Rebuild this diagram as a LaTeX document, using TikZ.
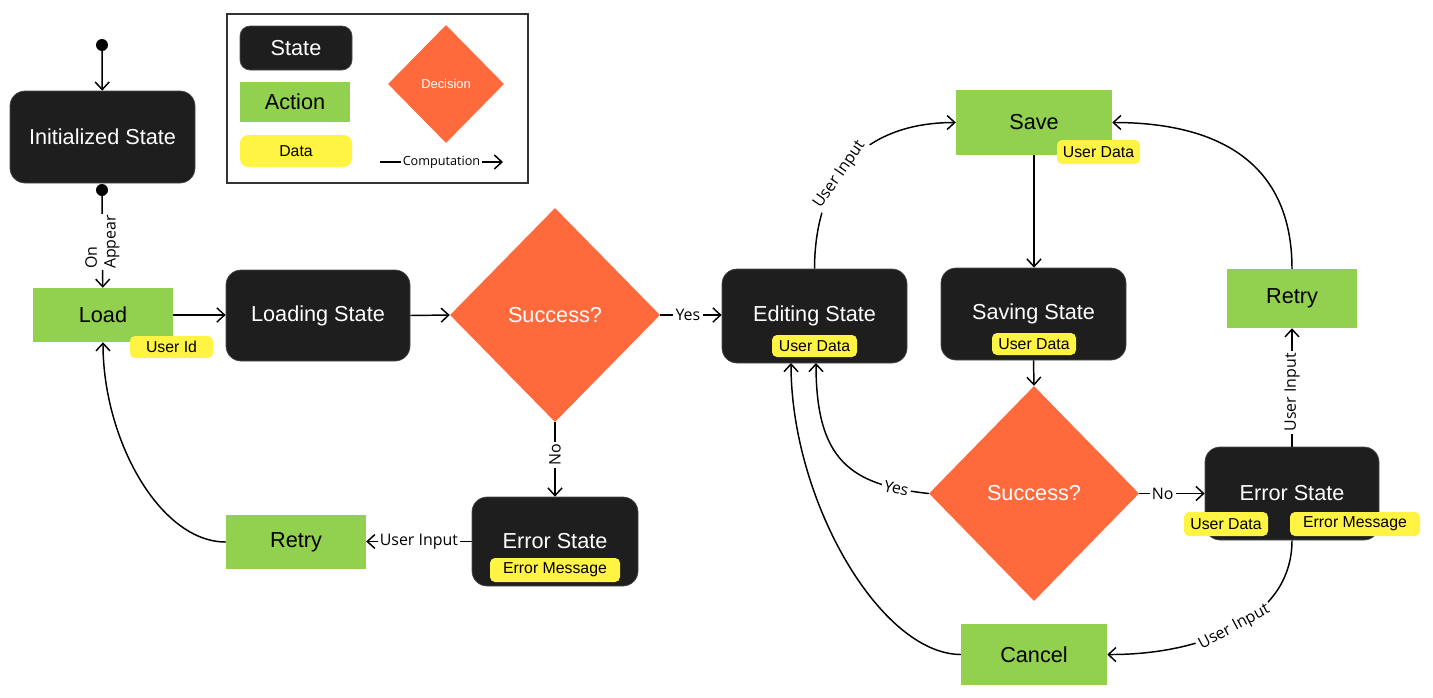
\documentclass[tikz,border=0pt]{standalone}
\usepackage{fontspec}
\setmainfont{Liberation Sans}
\newfontfamily\lblfont{Open Sans}
\usetikzlibrary{shapes.geometric,arrows.meta}
\definecolor{stblack}{HTML}{1E1E1E}
\definecolor{actgreen}{HTML}{92D050}
\definecolor{decorange}{HTML}{FF6A3D}
\definecolor{datayellow}{HTML}{FFF344}
\newcommand\mainsz{\fontsize{18.5}{22}\selectfont}
\newcommand\datasz{\fontsize{13.5}{16}\selectfont}
\newcommand\lblsz{\lblfont\fontsize{13.6}{16}\selectfont}
\newcommand\decsz{\fontsize{11}{13}\selectfont}
\newcommand\compsz{\lblfont\fontsize{10.8}{12}\selectfont}
\begin{document}
\begin{tikzpicture}[x=0.03cm,y=-0.03cm,
  sz/.style 2 args={minimum width=#1*0.03cm, minimum height=#2*0.03cm},
  statebox/.style={fill=stblack, draw=black!70, line width=0.6pt, rounded corners=0.45cm, text=white, font=\mainsz, inner sep=0pt},
  actbox/.style={fill=actgreen, text=black, font=\mainsz, inner sep=0pt},
  databox/.style={fill=datayellow, rounded corners=0.15cm, text=black, font=\datasz, inner sep=0pt},
  decbox/.style={diamond, fill=decorange, text=white, font=\mainsz, inner sep=0pt},
  dotnode/.style={circle, fill=black, inner sep=0pt, minimum size=12*0.03cm},
  arr/.style={-{Straight Barb[length=6.5pt,width=12pt]}, line width=1.25pt},
  lbl/.style={fill=white, text=black, font=\lblsz, inner sep=2pt},
  legendframe/.style={draw=black!80, line width=1.6pt}
]
\fill[white] (0,0) rectangle (1433,697);
\useasboundingbox (0,0) rectangle (1433,697);

% legend
\draw[legendframe] (227,14) rectangle (528,183);
\node[statebox, rounded corners=0.3cm, sz={112}{44}] (lstate) at (296,48) {State};
\node[actbox, sz={110}{40}] (lact) at (295,102) {Action};
\node[databox, rounded corners=0.25cm, sz={112}{32}] (ldata) at (296,151) {Data};
\node[decbox, sz={116}{118}, font=\decsz] (ldec) at (446,84) {Decision};
\coordinate (c1) at (380,162);
\coordinate (c2) at (503,162);
\draw[arr] (c1) -- node[lbl, font=\compsz, inner sep=1.5pt]{Computation} (c2);

% left part
\node[dotnode] (start) at (102,45) {};
\node[statebox, sz={185}{92}] (init) at (102.5,137) {Initialized State};
\node[dotnode] (dot2) at (102,190) {};
\node[actbox, sz={140}{54}] (load) at (103,315) {Load};
\node[databox, sz={83}{22}] (uid) at (171.5,347) {User Id};
\node[statebox, sz={184}{91}] (loading) at (318,315.5) {Loading State};
\node[decbox, sz={210}{214}] (dec1) at (555,315) {Success?};
\node[statebox, sz={166}{89}] (err1) at (555,541.5) {Error State};
\node[databox, sz={130}{24}] (em1) at (555,570) {Error Message};
\node[actbox, sz={140}{54}] (retry1) at (296,542) {Retry};

% right part
\node[statebox, sz={185}{94}] (edit) at (814.5,316) {Editing State};
\node[databox, sz={85}{22}] (ud1) at (814.5,346) {User Data};
\node[actbox, sz={156}{65}] (save) at (1034,122.5) {Save};
\node[databox, sz={83}{24}] (ud2) at (1098.5,152) {User Data};
\node[statebox, sz={185}{92}] (saving) at (1033.5,314) {Saving State};
\node[databox, sz={84}{22}] (ud3) at (1034,344) {User Data};
\node[decbox, sz={210}{215}] (dec2) at (1034,493.5) {Success?};
\node[statebox, sz={174}{93}] (err2) at (1292,493.5) {Error State};
\node[databox, sz={84}{24}] (ud4) at (1226,524) {User Data};
\node[databox, sz={130}{24}] (em2) at (1355,524) {Error Message};
\node[actbox, sz={130}{59}] (retry2) at (1292,298.5) {Retry};
\node[actbox, sz={146}{61}] (cancel) at (1034,654.5) {Cancel};
\coordinate (e1) at (816,363);
\coordinate (e2) at (791,363);

% connectors left
\draw[arr] (start) -- (init);
\draw[arr] (dot2) -- node[lbl, rotate=90, align=left, inner sep=1pt]{On\\Appear} (load);
\draw[arr] (load.east) -- (load.east -| loading.west);
\draw[arr] (loading.east) -- (dec1.west);
\draw[arr] (dec1.east) -- node[lbl, pos=0.45]{Yes} (dec1.east -| edit.west);
\draw[arr] (dec1.south) -- node[lbl, rotate=90, pos=0.44]{No} (err1.north);
\draw[arr] (err1.west) -- node[lbl]{User Input} (err1.west -| retry1.east);
\draw[arr] (retry1.west) .. controls (160,542) and (103,440) .. (load.south);

% connectors right
\draw[arr] (edit.north) .. controls (815,170) and (870,122.5) .. (save.west) node[lbl, sloped, pos=0.4]{User Input};
\draw[arr] (save.south) -- (save.south |- saving.north);
\draw[arr] (saving.south) -- (dec2.north);
\draw[arr] (dec2.west) .. controls (850,485) and (816,460) .. (e1) node[lbl, sloped, pos=0.15]{Yes};
\draw[arr] (cancel.west) .. controls (880,654) and (791,500) .. (e2);
\draw[arr] (dec2.east) -- node[lbl, pos=0.36]{No} (dec2.east -| err2.west);
\draw[arr] (err2.north) -- node[lbl, rotate=90, pos=0.46]{User Input} (retry2.south);
\draw[arr] (retry2.north) .. controls (1292,150) and (1200,122.5) .. (save.east);
\draw[arr] (err2.south) .. controls (1292,620) and (1200,655) .. (cancel.east) node[lbl, sloped, pos=0.5]{User Input};
\end{tikzpicture}
\end{document}
